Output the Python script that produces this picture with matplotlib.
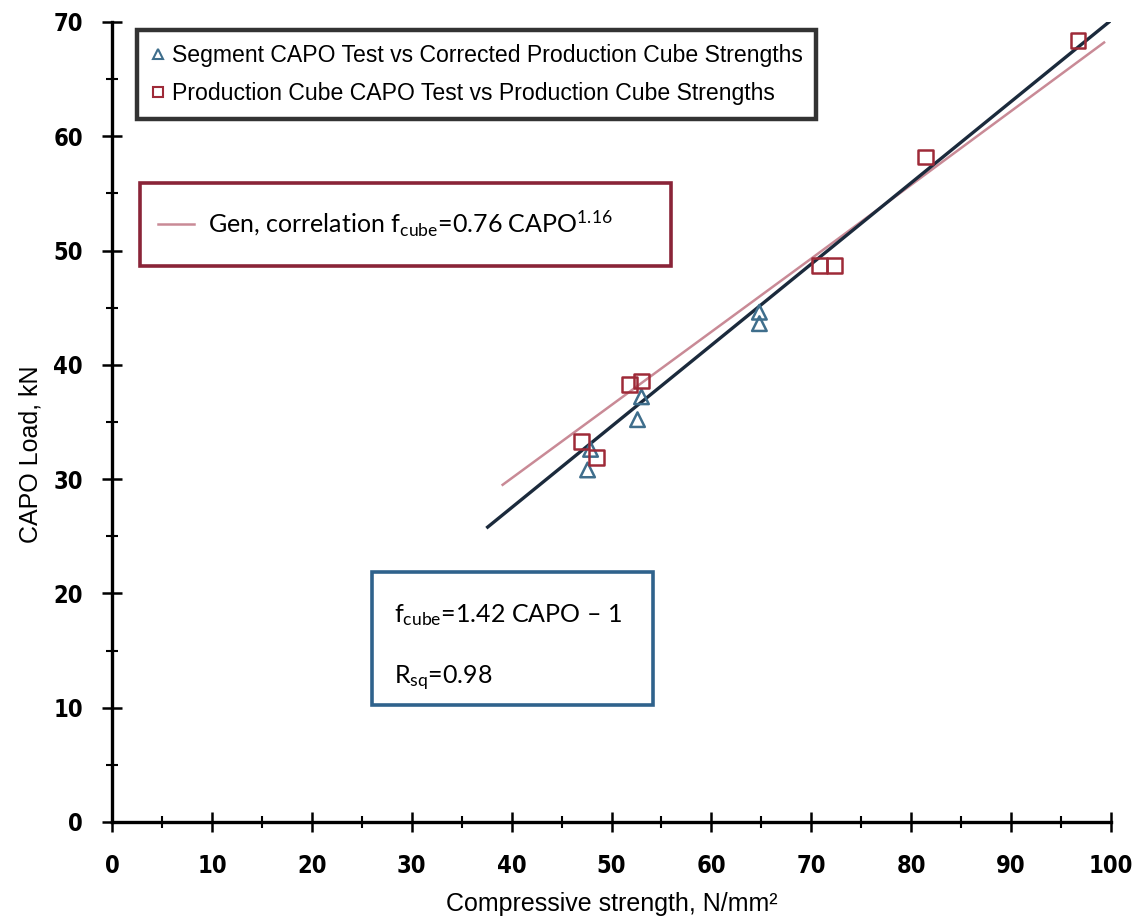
import matplotlib
matplotlib.use("Agg")
import matplotlib.pyplot as plt
from matplotlib.lines import Line2D
from matplotlib.patches import Rectangle
from matplotlib.ticker import MultipleLocator

plt.rcParams['mathtext.fontset'] = 'custom'
plt.rcParams['mathtext.rm'] = 'Lato'
plt.rcParams['mathtext.default'] = 'rm'

# segment CAPO test vs corrected production cube strengths (triangles)
seg_strength = [47.6, 47.9, 52.6, 53.0, 64.8, 64.8]
seg_capo = [30.8, 32.6, 35.2, 37.2, 43.6, 44.6]

# production cube CAPO test vs production cube strengths (squares)
prod_strength = [47.0, 48.5, 51.8, 53.0, 70.8, 72.3, 81.4, 96.7]
prod_capo = [33.3, 31.9, 38.3, 38.6, 48.7, 48.7, 58.2, 68.4]

# fitted line f_cube = 1.42 CAPO - 1 (ends)
fit_strength = [37.6, 99.8]
fit_capo = [25.8, 70.0]

# general correlation f_cube = 0.76 CAPO^1.16
gen_strength = [39.1, 70.0, 99.3]
gen_capo = [29.5, 49.3, 68.2]

fig = plt.figure(figsize=(11.35, 9.22), dpi=100)
ax = fig.add_axes([0.0987, 0.1085, 0.8802, 0.8677])

ax.plot(gen_strength, gen_capo, color='#c98a96', lw=1.8, zorder=2)
ax.plot(fit_strength, fit_capo, color='#1b2a3c', lw=2.4, zorder=3)
ax.scatter(seg_strength, seg_capo, marker='^', s=110, facecolors='none',
           edgecolors='#3f6e8c', linewidths=1.8, zorder=4)
ax.scatter(prod_strength, prod_capo, marker='s', s=110, facecolors='none',
           edgecolors='#9e2a38', linewidths=1.8, zorder=5)

ax.set_xlim(0, 100)
ax.set_ylim(0, 70)
ax.xaxis.set_major_locator(MultipleLocator(10))
ax.xaxis.set_minor_locator(MultipleLocator(5))
ax.yaxis.set_major_locator(MultipleLocator(10))
ax.yaxis.set_minor_locator(MultipleLocator(5))
ax.spines['top'].set_visible(False)
ax.spines['right'].set_visible(False)
for s in ['left', 'bottom']:
    ax.spines[s].set_linewidth(2.4)
ax.tick_params(which='major', direction='inout', length=14, width=1.8)
ax.tick_params(axis='x', which='major', pad=16)
ax.tick_params(axis='y', which='major', pad=14)
ax.tick_params(which='minor', direction='inout', length=8, width=1.5)
for lab in ax.get_xticklabels() + ax.get_yticklabels():
    lab.set_fontfamily('DejaVu Sans')
    lab.set_fontstretch('condensed')
    lab.set_fontweight('bold')
    lab.set_fontsize(17)

ax.set_xlabel('Compressive strength, N/mm²', fontsize=18,
              family='Liberation Sans', labelpad=10)
ax.set_ylabel('CAPO Load, kN', fontsize=18, family='Liberation Sans')
ax.yaxis.set_label_coords(-0.07, 0.46)

handles = [
    Line2D([], [], ls='none', marker='^', ms=7, mfc='none', mec='#3f6e8c', mew=1.5),
    Line2D([], [], ls='none', marker='s', ms=7, mfc='none', mec='#9e2a38', mew=1.5),
]
labels = ['Segment CAPO Test vs Corrected Production Cube Strengths',
          'Production Cube CAPO Test vs Production Cube Strengths']
leg = ax.legend(handles, labels, loc='upper left', bbox_to_anchor=(0.025, 0.99),
                borderaxespad=0, fancybox=False, handlelength=0.6, handletextpad=0.3,
                borderpad=0.6, labelspacing=0.65,
                prop={'family': 'Liberation Sans', 'size': 16.6})
leg.get_frame().set_edgecolor('black')
leg.get_frame().set_linewidth(3.2)

# general correlation box
ax.add_patch(Rectangle((0.028, 0.695), 0.532, 0.104, transform=ax.transAxes,
                       fill=False, edgecolor='#8a2438', lw=2.6, zorder=6))
ax.add_line(Line2D([0.046, 0.082], [0.7475, 0.7475], transform=ax.transAxes,
                   color='#c98a96', lw=1.8, zorder=6))
ax.text(0.096, 0.7475, r'Gen, correlation f$_{\rm cube}$=0.76 CAPO$^{1.16}$',
        transform=ax.transAxes, fontsize=18, family='Lato', va='center', zorder=7)

# linear fit box
ax.add_patch(Rectangle((26.0, 10.2), 28.2, 11.7, fill=False,
                       edgecolor='#2f628c', lw=2.6, zorder=6))
ax.text(28.2, 18.1, r'f$_{\rm cube}$=1.42 CAPO – 1', fontsize=18,
        family='Lato', va='center', zorder=7)
ax.text(28.2, 12.6, r'R$_{\rm sq}$=0.98', fontsize=18,
        family='Lato', va='center', zorder=7)

fig.savefig('out.png', dpi=100)
